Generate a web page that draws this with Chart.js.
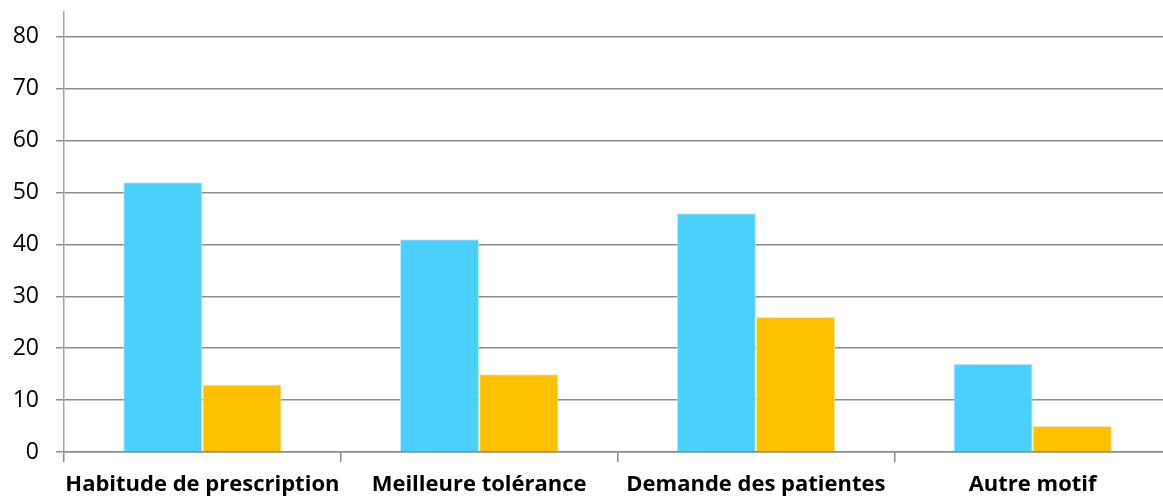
<!DOCTYPE html>
<html>
<head>
<meta charset="utf-8">
<script src="https://cdn.jsdelivr.net/npm/chart.js@4"></script>
<style>
  html, body { margin: 0; padding: 0; background: #fff; overflow: hidden; }
  #wrap { width: 1171px; height: 498px; }
</style>
</head>
<body>
<div id="wrap"><canvas id="motifChart"></canvas></div>
<script>
const categories = ["Habitude de prescription", "Meilleure tolérance", "Demande des patientes", "Autre motif"];
const seriesBlue = [52, 41, 46, 17];
const seriesOrange = [13, 15, 26, 5];
const yTicks = [0, 10, 20, 30, 40, 50, 60, 70, 80];

const fontFamily = "'Open Sans', 'Noto Sans', sans-serif";

const config = {
  type: "bar",
  data: {
    labels: categories,
    datasets: [
      {
        label: "Série 1",
        data: seriesBlue,
        backgroundColor: "#4acfff",
        borderColor: "#bfefff",
        borderWidth: 1,
        categoryPercentage: 0.572,
        barPercentage: 1,
      },
      {
        label: "Série 2",
        data: seriesOrange,
        backgroundColor: "#ffc000",
        borderColor: "#ffe49a",
        borderWidth: 1,
        categoryPercentage: 0.572,
        barPercentage: 1,
      },
    ],
  },
  options: {
    responsive: true,
    maintainAspectRatio: false,
    animation: false,
    layout: { padding: { top: 0, left: 0, right: 0, bottom: 0 } },
    plugins: {
      legend: { display: false },
      tooltip: { enabled: false },
    },
    scales: {
      y: {
        min: 0,
        max: 84.8,
        afterBuildTicks: (scale) => {
          scale.ticks = yTicks.map((v) => ({ value: v }));
        },
        afterFit: (scale) => {
          scale.width = 64;
          scale.paddingTop = 12;
        },
        ticks: {
          padding: 17,
          color: "#000",
          font: { family: fontFamily, size: 23 },
        },
        grid: {
          color: "#8c8c8c",
          lineWidth: 1.5,
          tickLength: 8,
          drawTicks: true,
        },
        border: { color: "#a6a6a6", width: 1.5 },
      },
      x: {
        afterFit: (scale) => {
          scale.height = 46;
        },
        ticks: {
          padding: 10,
          color: "#000",
          font: { family: fontFamily, size: 22, weight: "bold" },
          maxRotation: 0,
          autoSkip: false,
        },
        grid: {
          offset: true,
          drawOnChartArea: false,
          drawTicks: true,
          tickLength: 10,
          color: "#8c8c8c",
          lineWidth: 1.5,
        },
        border: { color: "#8c8c8c", width: 1.5 },
      },
    },
  },
};

const ctx = document.getElementById("motifChart").getContext("2d");
new Chart(ctx, config);
</script>
</body>
</html>
